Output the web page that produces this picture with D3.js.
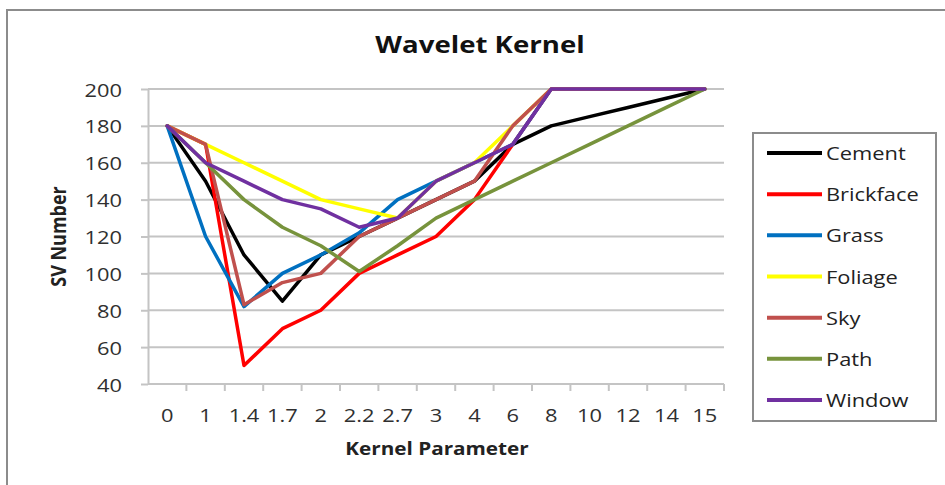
<!DOCTYPE html>
<html>
<head>
<meta charset="utf-8">
<script src="https://cdn.jsdelivr.net/npm/d3@7"></script>
<style>
  html, body { margin: 0; padding: 0; background: #fff; }
  svg { display: block; }
  text { font-family: "Open Sans", "Liberation Sans", sans-serif; }
</style>
</head>
<body>
<svg id="chart" width="945" height="485"></svg>
<script>
// Kernel parameter categories along the x axis
const categories = ["0", "1", "1.4", "1.7", "2", "2.2", "2.7", "3", "4", "6", "8", "10", "12", "14", "15"];

// Number of support vectors per class for each kernel parameter
const cement    = [180, 150, 110, 85, 110, 120, 130, 140, 150, 170, 180, 185, 190, 195, 200];
const brickface = [180, 170, 50, 70, 80, 100, 110, 120, 140, 170, 200, 200, 200, 200, 200];
const grass     = [180, 120, 82, 100, 110, 122, 140, 150, 160, 170, 200, 200, 200, 200, 200];
const foliage   = [180, 170, 160, 150, 140, 135, 130, 150, 160, 180, 200, 200, 200, 200, 200];
const sky       = [180, 170, 83, 95, 100, 120, 130, 140, 150, 180, 200, 200, 200, 200, 200];
const path      = [180, 160, 140, 125, 115, 101, 115, 130, 140, 150, 160, 170, 180, 190, 200];
const windowCls = [180, 160, 150, 140, 135, 125, 130, 150, 160, 170, 200, 200, 200, 200, 200];

const seriesNames = ["Cement", "Brickface", "Grass", "Foliage", "Sky", "Path", "Window"];
const seriesValues = [cement, brickface, grass, foliage, sky, path, windowCls];
const seriesColors = ["#000000", "#ff0000", "#0070c0", "#ffff00", "#c0504d", "#77933c", "#7030a0"];

const yTicks = [40, 60, 80, 100, 120, 140, 160, 180, 200];

const svg = d3.select("#chart");
const textColor = "#303030";
const gridColor = "#c4c4c4";
const sx = 1.15; // horizontal text stretch

const plot = { left: 148, right: 724, top: 89, bottom: 384 };

const x = d3.scaleBand().domain(categories).range([plot.left, plot.right]).padding(0);
const y = d3.scaleLinear().domain([40, 200]).range([plot.bottom, plot.top]);
const cx = d => x(d) + x.bandwidth() / 2;

// stretched text helper
function label(g, tx, ty, str, opts) {
  const t = g.append("text")
    .attr("transform", `translate(${tx},${ty}) scale(${sx},1)${opts.rotate ? " rotate(-90)" : ""}`)
    .attr("text-anchor", opts.anchor || "start")
    .attr("font-size", opts.size)
    .attr("font-weight", opts.weight || "normal")
    .attr("fill", opts.fill || textColor)
    .text(str);
  return t;
}

// chart area frame
svg.append("rect")
  .attr("x", 7).attr("y", 10).attr("width", 960).attr("height", 500)
  .attr("fill", "#fff").attr("stroke", "#8c8c8c").attr("stroke-width", 2);

// title
label(svg, 480, 53, "Wavelet Kernel", { anchor: "middle", size: 24, weight: "bold", fill: "#111" });

// horizontal gridlines
svg.append("g").selectAll("line")
  .data(yTicks.filter(v => v !== 40))
  .join("line")
  .attr("x1", plot.left).attr("x2", plot.right)
  .attr("y1", d => y(d)).attr("y2", d => y(d))
  .attr("stroke", gridColor).attr("stroke-width", 2);

// y axis
const yAxis = svg.append("g")
  .attr("transform", `translate(${plot.left},0)`)
  .call(d3.axisLeft(y).tickValues(yTicks).tickSize(7).tickSizeOuter(0));
yAxis.select(".domain").attr("stroke", gridColor).attr("stroke-width", 2);
yAxis.selectAll(".tick line").attr("stroke", gridColor).attr("stroke-width", 2);
yAxis.selectAll(".tick text").remove();
yAxis.selectAll(".tick").each(function (d) {
  label(d3.select(this), -26, 7, d, { anchor: "end", size: 19 });
});

// x axis with ticks between categories
const xAxisG = svg.append("g").attr("transform", `translate(0,${plot.bottom})`);
xAxisG.append("line")
  .attr("x1", plot.left).attr("x2", plot.right)
  .attr("stroke", gridColor).attr("stroke-width", 2);
const edges = categories.map(d => x(d)).concat([x(categories[categories.length - 1]) + x.bandwidth()]);
xAxisG.selectAll("line.tk")
  .data(edges.slice(1))
  .join("line").attr("class", "tk")
  .attr("x1", d => d).attr("x2", d => d)
  .attr("y1", 0).attr("y2", 7)
  .attr("stroke", gridColor).attr("stroke-width", 2);
categories.forEach(c => {
  label(xAxisG, cx(c), 38, c, { anchor: "middle", size: 19 });
});

// axis titles
label(svg, 437, 455, "Kernel Parameter", { anchor: "middle", size: 18, weight: "bold", fill: "#222" });
label(svg, 66, (plot.top + plot.bottom) / 2, "SV Number", { anchor: "middle", size: 18, weight: "bold", fill: "#222", rotate: true });

// series lines
const line = d3.line()
  .x((v, i) => cx(categories[i]))
  .y(v => y(v));

svg.append("g").selectAll("path")
  .data(seriesValues)
  .join("path")
  .attr("d", d => line(d))
  .attr("fill", "none")
  .attr("stroke", (d, i) => seriesColors[i])
  .attr("stroke-width", 3.5)
  .attr("stroke-linejoin", "round")
  .attr("stroke-linecap", "round");

// legend
const legend = svg.append("g");
legend.append("rect")
  .attr("x", 753).attr("y", 133).attr("width", 183).attr("height", 288)
  .attr("fill", "#fff").attr("stroke", "#8c8c8c").attr("stroke-width", 2);
const legendY = d3.scalePoint().domain(seriesNames).range([153, 400]);
seriesNames.forEach((name, i) => {
  legend.append("line")
    .attr("x1", 767).attr("x2", 822)
    .attr("y1", legendY(name)).attr("y2", legendY(name))
    .attr("stroke", seriesColors[i]).attr("stroke-width", 4);
  label(legend, 826, legendY(name) + 7, name, { size: 19, fill: "#222" });
});
</script>
</body>
</html>
